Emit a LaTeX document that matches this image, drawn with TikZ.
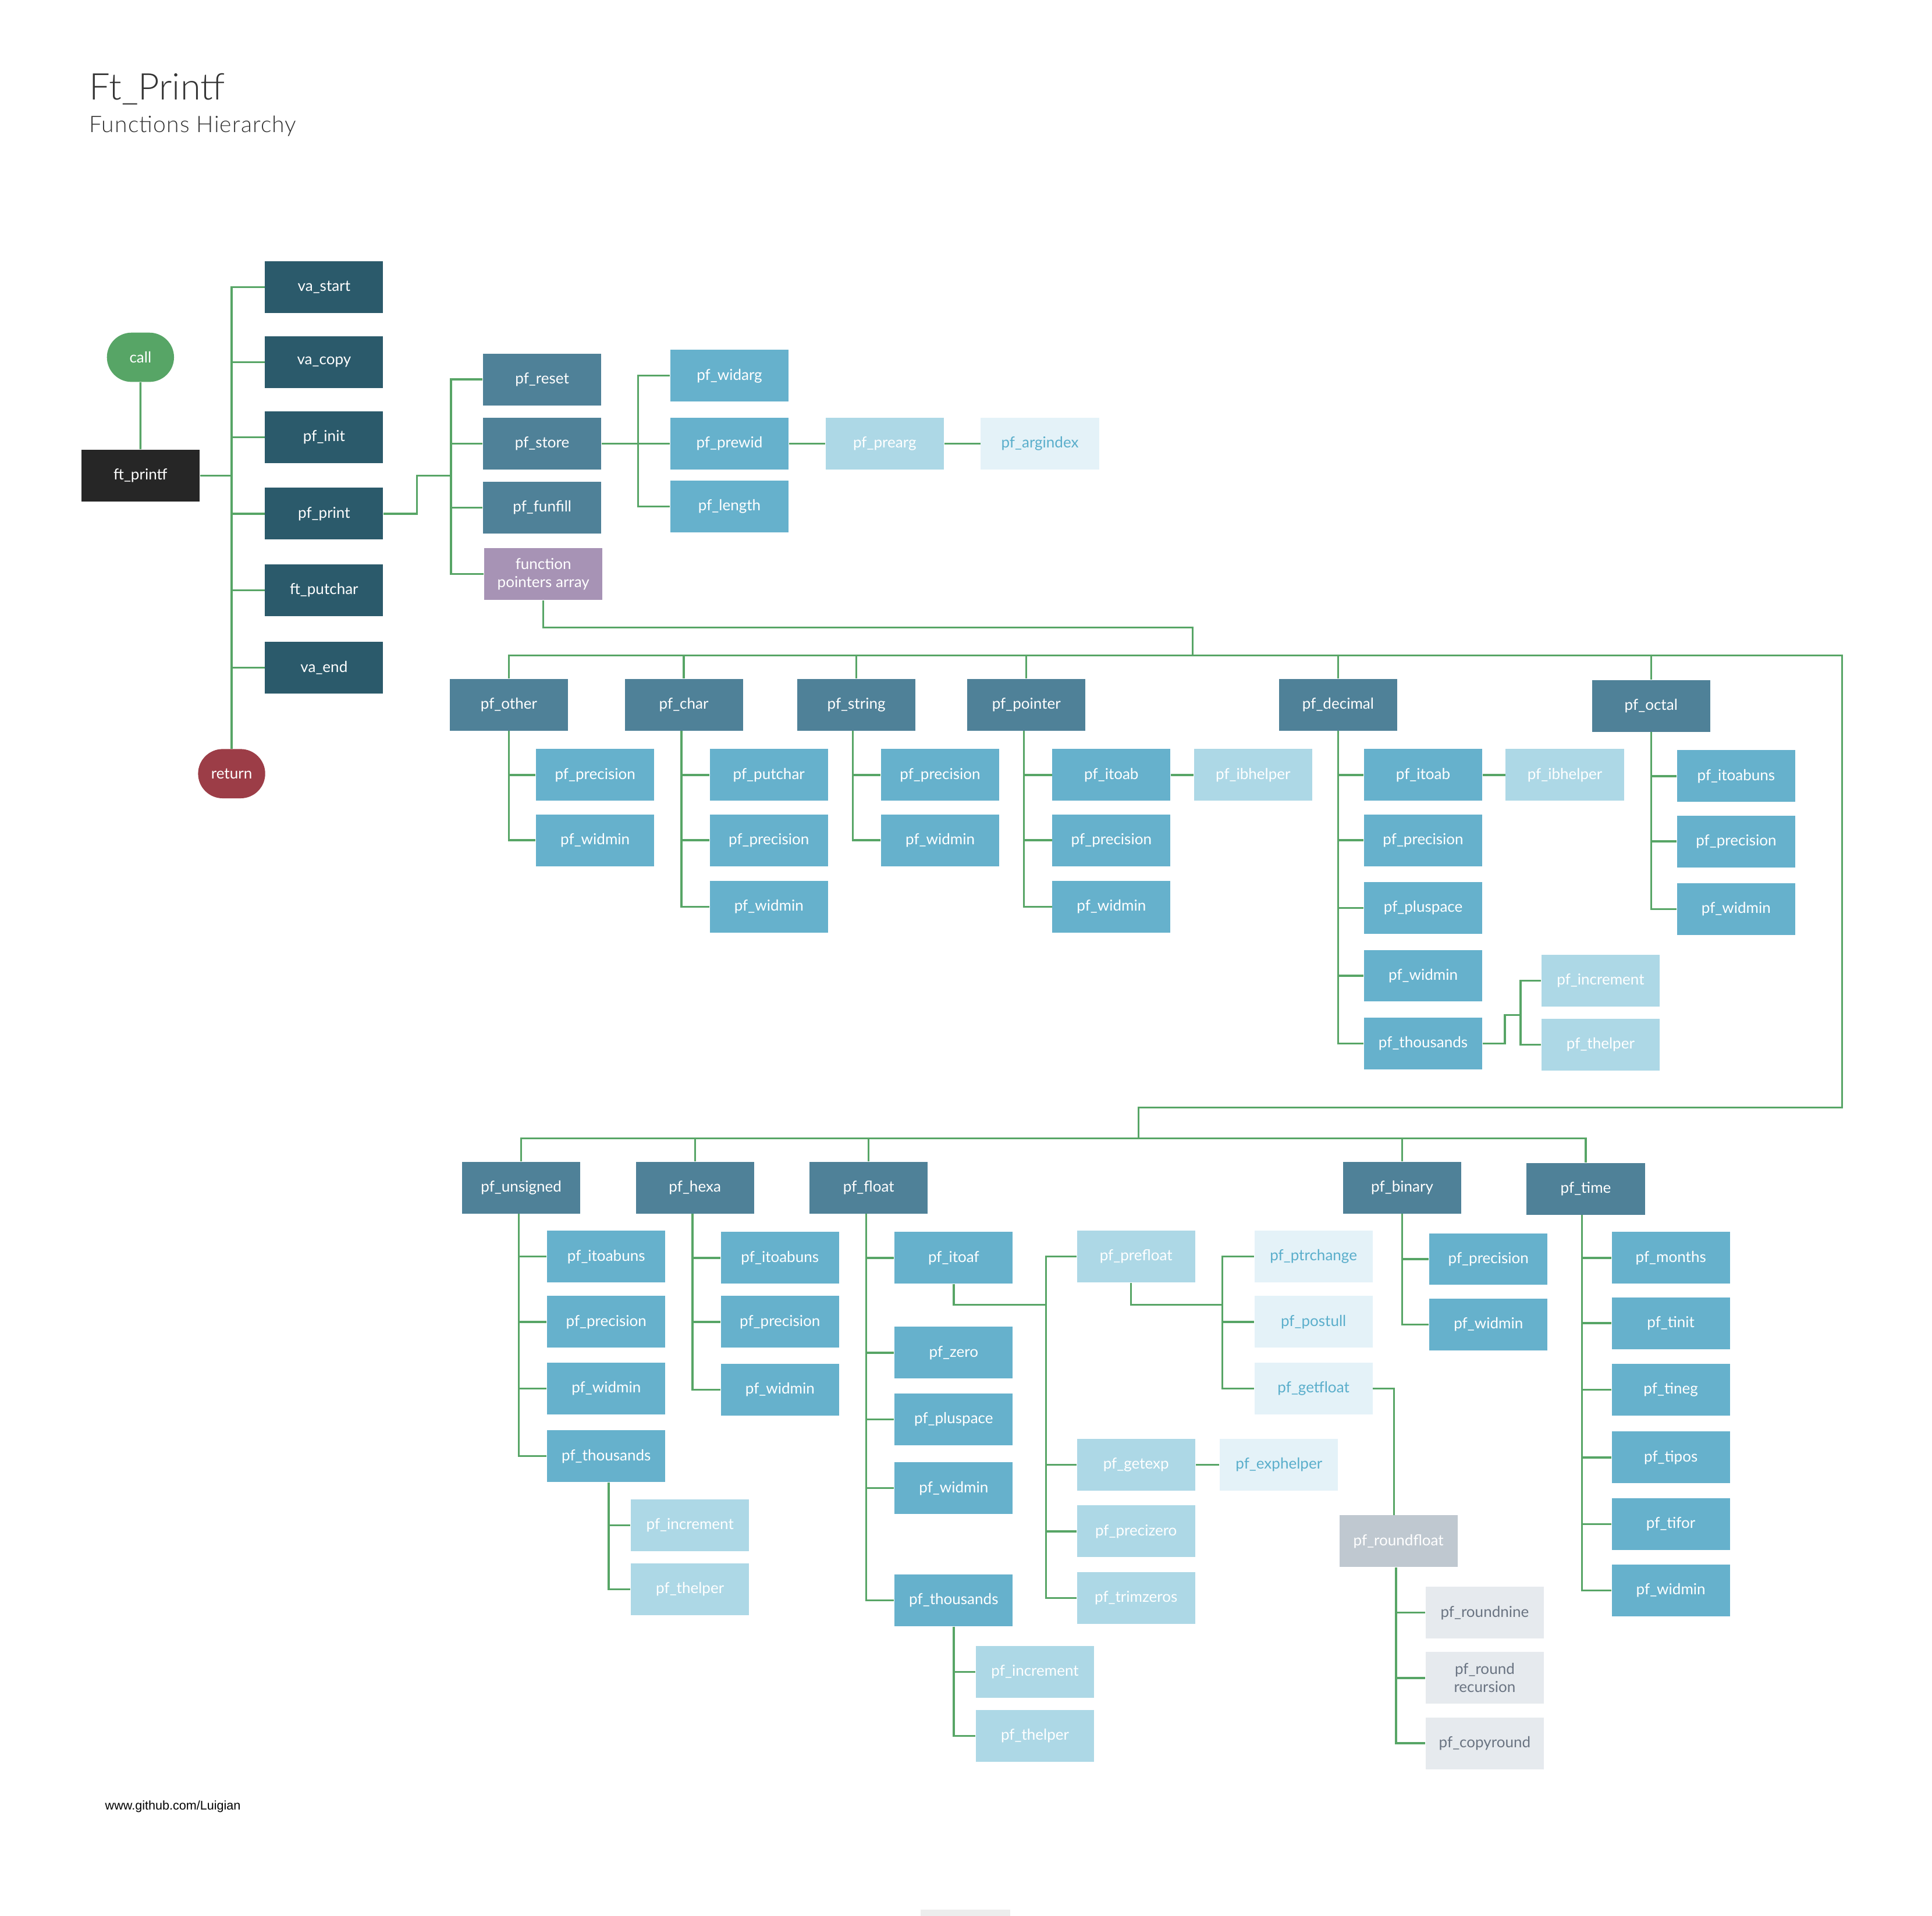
\documentclass[tikz,border=0pt]{standalone}
\usepackage{fontspec}
\setmainfont{Lato}
\newfontfamily\titlefont{Lato Light}
\newfontfamily\footfont{Liberation Sans}
\usepackage{xcolor}
\usetikzlibrary{shapes.misc}

\definecolor{cBlack}{HTML}{262626}
\definecolor{cDark}{HTML}{2B5A6B}
\definecolor{cMid}{HTML}{4F8198}
\definecolor{cBlue}{HTML}{66B1CC}
\definecolor{cLight}{HTML}{ADD8E6}
\definecolor{cPale}{HTML}{E4F2F8}
\definecolor{cPaleText}{HTML}{5AAECB}
\definecolor{cGray}{HTML}{BFC8D0}
\definecolor{cPaleGray}{HTML}{E6EAEE}
\definecolor{cPaleGrayText}{HTML}{6A7482}
\definecolor{cPurple}{HTML}{A793B5}
\definecolor{cGreen}{HTML}{57A566}
\definecolor{cRed}{HTML}{9C3D47}
\definecolor{cTitle}{HTML}{333333}

\tikzset{
  fn/.style={rectangle, minimum width=1.92cm, minimum height=0.84cm, inner sep=1pt,
    text=white, align=center, font=\fontsize{7}{8.3}\selectfont},
  fnBlack/.style={fn, fill=cBlack},
  fnDark/.style={fn, fill=cDark},
  fnMid/.style={fn, fill=cMid},
  fnBlue/.style={fn, fill=cBlue},
  fnLight/.style={fn, fill=cLight},
  fnPale/.style={fn, fill=cPale, text=cPaleText},
  fnGray/.style={fn, fill=cGray},
  fnPaleGray/.style={fn, fill=cPaleGray, text=cPaleGrayText},
  fnPurple/.style={fn, fill=cPurple},
  terminal/.style={rounded rectangle, minimum width=1.16cm, minimum height=0.8cm, inner sep=1pt,
    text=white, font=\fontsize{7}{8.3}\selectfont},
  link/.style={draw=cGreen, line width=0.9pt},
}

\begin{document}
\begin{tikzpicture}[x=0.02cm, y=-0.02cm]
  \useasboundingbox (0,0) rectangle (1568,1555);

  % Title
  \node[anchor=base west, inner sep=0, text=cTitle, font=\titlefont\fontsize{17}{20}\selectfont] (title) at (72,81) {Ft\_Printf};
  \node[anchor=base west, inner sep=0, text=cTitle, font=\titlefont\fontsize{10.5}{12}\selectfont\addfontfeatures{LetterSpace=3}] (subtitle) at (72,107.5) {Functions Hierarchy};

  % Entry and exit
  \node[terminal, fill=cGreen] (call) at (114,290) {call};
  \node[fnBlack] (ftprintf) at (114,386) {ft\_printf};
  \node[terminal, fill=cRed] (ret) at (188,628) {return};

  % First level
  \node[fnDark] (vastart) at (263,233) {va\_start};
  \node[fnDark] (vacopy) at (263,294) {va\_copy};
  \node[fnDark] (pfinit) at (263,355) {pf\_init};
  \node[fnDark] (pfprint) at (263,417) {pf\_print};
  \node[fnDark] (ftputchar) at (263,479) {ft\_putchar};
  \node[fnDark] (vaend) at (263,542) {va\_end};

  % pf_print level
  \node[fnMid] (pfreset) at (440,308) {pf\_reset};
  \node[fnMid] (pfstore) at (440,360) {pf\_store};
  \node[fnMid] (pffunfill) at (440,412) {pf\_funfill};
  \node[fnPurple] (fparray) at (441,466) {function\\pointers array};

  % pf_store level
  \node[fnBlue] (widarg) at (592,305) {pf\_widarg};
  \node[fnBlue] (prewid) at (592,360) {pf\_prewid};
  \node[fnBlue] (length) at (592,411) {pf\_length};
  \node[fnLight] (prearg) at (718,360) {pf\_prearg};
  \node[fnPale] (argindex) at (844,360) {pf\_argindex};

  % Conversions, first row
  \node[fnMid] (pfother) at (413,572) {pf\_other};
  \node[fnMid] (pfchar) at (555,572) {pf\_char};
  \node[fnMid] (pfstring) at (695,572) {pf\_string};
  \node[fnMid] (pfpointer) at (833,572) {pf\_pointer};
  \node[fnMid] (pfdecimal) at (1086,572) {pf\_decimal};
  \node[fnMid] (pfoctal) at (1340,573) {pf\_octal};

  \node[fnBlue] (othprec) at (483,629) {pf\_precision};
  \node[fnBlue] (othwid) at (483,682) {pf\_widmin};

  \node[fnBlue] (chrput) at (624,629) {pf\_putchar};
  \node[fnBlue] (chrprec) at (624,682) {pf\_precision};
  \node[fnBlue] (chrwid) at (624,736) {pf\_widmin};

  \node[fnBlue] (strprec) at (763,629) {pf\_precision};
  \node[fnBlue] (strwid) at (763,682) {pf\_widmin};

  \node[fnBlue] (ptritoab) at (902,629) {pf\_itoab};
  \node[fnBlue] (ptrprec) at (902,682) {pf\_precision};
  \node[fnBlue] (ptrwid) at (902,736) {pf\_widmin};
  \node[fnLight] (ptribh) at (1017,629) {pf\_ibhelper};

  \node[fnBlue] (decitoab) at (1155,629) {pf\_itoab};
  \node[fnBlue] (decprec) at (1155,682) {pf\_precision};
  \node[fnBlue] (decplus) at (1155,737) {pf\_pluspace};
  \node[fnBlue] (decwid) at (1155,792) {pf\_widmin};
  \node[fnBlue] (decthou) at (1155,847) {pf\_thousands};
  \node[fnLight] (decibh) at (1270,629) {pf\_ibhelper};
  \node[fnLight] (decinc) at (1299,796) {pf\_increment};
  \node[fnLight] (decthel) at (1299,848) {pf\_thelper};

  \node[fnBlue] (octitoa) at (1409,630) {pf\_itoabuns};
  \node[fnBlue] (octprec) at (1409,683) {pf\_precision};
  \node[fnBlue] (octwid) at (1409,738) {pf\_widmin};

  % Conversions, second row
  \node[fnMid] (pfunsigned) at (423,964) {pf\_unsigned};
  \node[fnMid] (pfhexa) at (564,964) {pf\_hexa};
  \node[fnMid] (pffloat) at (705,964) {pf\_float};
  \node[fnMid] (pfbinary) at (1138,964) {pf\_binary};
  \node[fnMid] (pftime) at (1287,965) {pf\_time};

  \node[fnBlue] (unsitoa) at (492,1020) {pf\_itoabuns};
  \node[fnBlue] (unsprec) at (492,1073) {pf\_precision};
  \node[fnBlue] (unswid) at (492,1127) {pf\_widmin};
  \node[fnBlue] (unsthou) at (492,1182) {pf\_thousands};
  \node[fnLight] (unsinc) at (560,1238) {pf\_increment};
  \node[fnLight] (unsthel) at (560,1290) {pf\_thelper};

  \node[fnBlue] (hexitoa) at (633,1021) {pf\_itoabuns};
  \node[fnBlue] (hexprec) at (633,1073) {pf\_precision};
  \node[fnBlue] (hexwid) at (633,1128) {pf\_widmin};

  \node[fnBlue] (fltitoaf) at (774,1021) {pf\_itoaf};
  \node[fnBlue] (fltzero) at (774,1098) {pf\_zero};
  \node[fnBlue] (fltplus) at (774,1152) {pf\_pluspace};
  \node[fnBlue] (fltwid) at (774,1208) {pf\_widmin};
  \node[fnBlue] (fltthou) at (774,1299) {pf\_thousands};
  \node[fnLight] (fltinc) at (840,1357) {pf\_increment};
  \node[fnLight] (fltthel) at (840,1409) {pf\_thelper};

  \node[fnLight] (prefloat) at (922,1020) {pf\_prefloat};
  \node[fnLight] (getexp) at (922,1189) {pf\_getexp};
  \node[fnLight] (precizero) at (922,1243) {pf\_precizero};
  \node[fnLight] (trimzeros) at (922,1297) {pf\_trimzeros};
  \node[fnPale] (exphelper) at (1038,1189) {pf\_exphelper};

  \node[fnPale] (ptrchange) at (1066,1020) {pf\_ptrchange};
  \node[fnPale] (postull) at (1066,1073) {pf\_postull};
  \node[fnPale] (getfloat) at (1066,1127) {pf\_getfloat};

  \node[fnGray] (roundfloat) at (1135,1251) {pf\_roundfloat};
  \node[fnPaleGray] (roundnine) at (1205,1309) {pf\_roundnine};
  \node[fnPaleGray] (roundrec) at (1205,1362) {pf\_round\\recursion};
  \node[fnPaleGray] (copyround) at (1205,1415) {pf\_copyround};

  \node[fnBlue] (binprec) at (1208,1022) {pf\_precision};
  \node[fnBlue] (binwid) at (1208,1075) {pf\_widmin};

  \node[fnBlue] (timmonths) at (1356,1021) {pf\_months};
  \node[fnBlue] (timinit) at (1356,1074) {pf\_tinit};
  \node[fnBlue] (timneg) at (1356,1128) {pf\_tineg};
  \node[fnBlue] (timpos) at (1356,1183) {pf\_tipos};
  \node[fnBlue] (timfor) at (1356,1237) {pf\_tifor};
  \node[fnBlue] (timwid) at (1356,1291) {pf\_widmin};

  % Junction points
  \coordinate (spineA) at (188,386);
  \coordinate (spineB) at (366,386);
  \coordinate (spineC) at (518,360);
  \coordinate (busA) at (968,532);
  \coordinate (busAr) at (1495,532);
  \coordinate (busAturn) at (1495,899);
  \coordinate (busB) at (924,924);
  \coordinate (spineD) at (1234,824);
  \coordinate (spineE) at (849,1059);
  \coordinate (spineF) at (992,1059);

  % Connectors, top part
  \draw[link] (call) -- (ftprintf);
  \draw[link] (ftprintf) -- (spineA);
  \foreach \n in {vastart,vacopy,pfinit,pfprint,ftputchar,vaend}
    \draw[link] (spineA) |- (\n.west);
  \draw[link] (spineA) -- (ret.north);
  \draw[link] (pfprint.east) -- ++(27,0) |- (spineB);
  \foreach \n in {pfreset,pfstore,pffunfill,fparray}
    \draw[link] (spineB) |- (\n.west);
  \draw[link] (pfstore) -- (spineC);
  \foreach \n in {widarg,prewid,length}
    \draw[link] (spineC) |- (\n.west);
  \draw[link] (prewid) -- (prearg) -- (argindex);

  % Buses to the conversions
  \draw[link] (fparray.south) -- ++(0,22) -| (busA);
  \foreach \n in {pfother,pfchar,pfstring,pfpointer,pfdecimal,pfoctal}
    \draw[link] (\n.north) |- (busA);
  \draw[link] (busA) -- (busAr) -- (busAturn) -| (busB);
  \foreach \n in {pfunsigned,pfhexa,pffloat,pfbinary,pftime}
    \draw[link] (\n.north) |- (busB);

  % Children, first row
  \foreach \n in {othprec,othwid} \draw[link] (pfother.south) |- (\n.west);
  \foreach \n in {chrput,chrprec,chrwid} \draw[link] (pfchar.south) ++(-2,0) |- (\n.west);
  \foreach \n in {strprec,strwid} \draw[link] (pfstring.south) ++(-3,0) |- (\n.west);
  \foreach \n in {ptritoab,ptrprec,ptrwid} \draw[link] (pfpointer.south) ++(-2,0) |- (\n.west);
  \draw[link] (ptritoab) -- (ptribh);
  \foreach \n in {decitoab,decprec,decplus,decwid,decthou} \draw[link] (pfdecimal.south) |- (\n.west);
  \draw[link] (decitoab) -- (decibh);
  \draw[link] (decthou.east) -- ++(18,0) |- (spineD);
  \foreach \n in {decinc,decthel} \draw[link] (spineD) |- (\n.west);
  \foreach \n in {octitoa,octprec,octwid} \draw[link] (pfoctal.south) |- (\n.west);

  % Children, second row
  \foreach \n in {unsitoa,unsprec,unswid,unsthou} \draw[link] (pfunsigned.south) ++(-2,0) |- (\n.west);
  \foreach \n in {unsinc,unsthel} \draw[link] (unsthou.south) ++(2,0) |- (\n.west);
  \foreach \n in {hexitoa,hexprec,hexwid} \draw[link] (pfhexa.south) ++(-2,0) |- (\n.west);
  \foreach \n in {fltitoaf,fltzero,fltplus,fltwid,fltthou} \draw[link] (pffloat.south) ++(-2,0) |- (\n.west);
  \foreach \n in {fltinc,fltthel} \draw[link] (fltthou.south) |- (\n.west);
  \draw[link] (fltitoaf.south) |- (spineE);
  \foreach \n in {prefloat,getexp,precizero,trimzeros} \draw[link] (spineE) |- (\n.west);
  \draw[link] (getexp) -- (exphelper);
  \draw[link] (prefloat.south) ++(-4,0) |- (spineF);
  \foreach \n in {ptrchange,postull,getfloat} \draw[link] (spineF) |- (\n.west);
  \draw[link] (getfloat.east) -| ([xshift=-2]roundfloat.north);
  \foreach \n in {roundnine,roundrec,copyround} \draw[link] (roundfloat.south) ++(-2,0) |- (\n.west);
  \foreach \n in {binprec,binwid} \draw[link] (pfbinary.south) |- (\n.west);
  \foreach \n in {timmonths,timinit,timneg,timpos,timfor,timwid} \draw[link] (pftime.south) ++(-3,0) |- (\n.west);

  % Footer
  \node[anchor=base west, inner sep=0, font=\footfont\fontsize{5.8}{6.5}\selectfont] (footer) at (85,1469) {www.github.com/Luigian};
  \fill[black!7] (747,1550) rectangle (820,1555);
\end{tikzpicture}
\end{document}
